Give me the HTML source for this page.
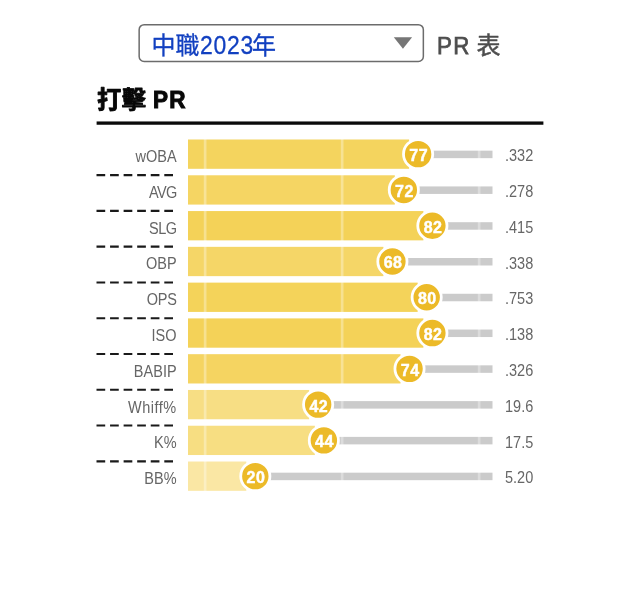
<!DOCTYPE html>
<html lang="zh-Hant"><head><meta charset="utf-8"><title>PR 表</title>
<style>
html,body{margin:0;padding:0;background:#fff;}
body{width:640px;height:590px;position:relative;overflow:hidden;font-family:"Liberation Sans",sans-serif;color:#666666;}
#wrap{position:absolute;left:0;top:0;width:640px;height:590px;will-change:transform;}
#shapes{position:absolute;left:0;top:0;display:block;}
.t{position:absolute;white-space:nowrap;line-height:1;}
.cjk{display:inline-block;overflow:hidden;color:transparent;-webkit-text-stroke:0 transparent;-webkit-text-fill-color:transparent;vertical-align:top;height:1em;}
.seltxt{color:#1240c0;font-size:24.6px;-webkit-text-stroke:0.3px #1240c0;}
.pr{font-size:24.8px;color:#4d4d4d;-webkit-text-stroke:0.75px #4d4d4d;}
.h2{font-size:24.5px;color:#080808;font-weight:bold;-webkit-text-stroke:1px #080808;}
.lab{left:60px;width:116.6px;text-align:right;font-size:16.3px;color:#666666;transform-origin:100% 0;transform:scaleX(.891);}
.val{left:505.3px;font-size:16.4px;color:#666666;transform-origin:0 0;transform:scaleX(.886);}
.num{width:40px;text-align:center;color:#fff;font-weight:bold;font-size:16.0px;-webkit-text-stroke:.45px #fff;letter-spacing:.5px;}
</style></head><body><div id="wrap">

<svg id="shapes" width="640" height="590" viewBox="0 0 640 590" role="img" aria-label="打擊 PR 表">
<rect x="139.15" y="24.65" width="284.2" height="36.8" rx="5" ry="5" fill="#fff" stroke="#6c6c6c" stroke-width="1.5"/>
<polygon points="393.8,37.2 412.1,37.2 402.95,48.7" fill="#767676"/>
<text x="151.5" y="53.5" font-size="24" fill="#1240c0" stroke="#1240c0" stroke-width="0.3" font-family="'Liberation Sans','Noto Sans CJK TC',sans-serif">中</text>
<text x="175.5" y="53.5" font-size="24" fill="#1240c0" stroke="#1240c0" stroke-width="0.3" font-family="'Liberation Sans','Noto Sans CJK TC',sans-serif">職</text>
<text x="252.1" y="53.5" font-size="24" fill="#1240c0" stroke="#1240c0" stroke-width="0.3" font-family="'Liberation Sans','Noto Sans CJK TC',sans-serif">年</text>
<text x="476.4" y="53.5" font-size="24" fill="#4d4d4d" stroke="#4d4d4d" stroke-width="0.5" stroke-linejoin="round" font-family="'Liberation Sans','Noto Sans CJK TC',sans-serif">表</text>
<text x="97.1" y="107.8" font-size="24.2" font-weight="bold" fill="#080808" stroke="#080808" stroke-width="0.9" stroke-linejoin="round" font-family="'Liberation Sans','Noto Sans CJK TC',sans-serif">打</text>
<text x="121.7" y="107.8" font-size="24.2" font-weight="bold" fill="#080808" stroke="#080808" stroke-width="0.9" stroke-linejoin="round" font-family="'Liberation Sans','Noto Sans CJK TC',sans-serif">擊</text>
<rect x="96.6" y="121.45" width="446.8" height="3.3" fill="#0a0a0a"/>
<rect x="188.0" y="150.65" width="304.5" height="7.5" fill="#cbcbcb"/>
<rect x="188.0" y="139.50" width="221.11" height="29.3" fill="rgb(244,212,94)"/>
<rect x="188.0" y="186.43" width="304.5" height="7.5" fill="#cbcbcb"/>
<rect x="188.0" y="175.28" width="206.83" height="29.3" fill="rgb(245,213,99)"/>
<rect x="188.0" y="222.21" width="304.5" height="7.5" fill="#cbcbcb"/>
<rect x="188.0" y="211.06" width="235.39" height="29.3" fill="rgb(244,210,88)"/>
<rect x="188.0" y="257.99" width="304.5" height="7.5" fill="#cbcbcb"/>
<rect x="188.0" y="246.84" width="195.41" height="29.3" fill="rgb(245,214,103)"/>
<rect x="188.0" y="293.77" width="304.5" height="7.5" fill="#cbcbcb"/>
<rect x="188.0" y="282.62" width="229.68" height="29.3" fill="rgb(244,211,90)"/>
<rect x="188.0" y="329.55" width="304.5" height="7.5" fill="#cbcbcb"/>
<rect x="188.0" y="318.40" width="235.39" height="29.3" fill="rgb(244,210,88)"/>
<rect x="188.0" y="365.33" width="304.5" height="7.5" fill="#cbcbcb"/>
<rect x="188.0" y="354.18" width="212.54" height="29.3" fill="rgb(245,212,97)"/>
<rect x="188.0" y="401.11" width="304.5" height="7.5" fill="#cbcbcb"/>
<rect x="188.0" y="389.96" width="121.15" height="29.3" fill="rgb(247,222,132)"/>
<rect x="188.0" y="436.89" width="304.5" height="7.5" fill="#cbcbcb"/>
<rect x="188.0" y="425.74" width="126.86" height="29.3" fill="rgb(247,222,130)"/>
<rect x="188.0" y="472.67" width="304.5" height="7.5" fill="#cbcbcb"/>
<rect x="188.0" y="461.52" width="58.32" height="29.3" fill="rgb(250,231,164)"/>
<rect x="203.78" y="130" width="2.7" height="372" fill="#fff" fill-opacity=".33"/>
<rect x="340.80" y="130" width="2.7" height="372" fill="#fff" fill-opacity=".33"/>
<rect x="477.82" y="130" width="2.7" height="372" fill="#fff" fill-opacity=".33"/>
<circle cx="418.11" cy="154.15" r="14.6" fill="#ecba28" stroke="#fff" stroke-width="2.8"/>
<line x1="96.5" y1="175.10" x2="173" y2="175.10" stroke="#1a1a1a" stroke-width="2.1" stroke-dasharray="8.7 4.86"/>
<circle cx="403.83" cy="189.93" r="14.6" fill="#ecba28" stroke="#fff" stroke-width="2.8"/>
<line x1="96.5" y1="210.88" x2="173" y2="210.88" stroke="#1a1a1a" stroke-width="2.1" stroke-dasharray="8.7 4.86"/>
<circle cx="432.39" cy="225.71" r="14.6" fill="#ecba28" stroke="#fff" stroke-width="2.8"/>
<line x1="96.5" y1="246.66" x2="173" y2="246.66" stroke="#1a1a1a" stroke-width="2.1" stroke-dasharray="8.7 4.86"/>
<circle cx="392.41" cy="261.49" r="14.6" fill="#ecba28" stroke="#fff" stroke-width="2.8"/>
<line x1="96.5" y1="282.44" x2="173" y2="282.44" stroke="#1a1a1a" stroke-width="2.1" stroke-dasharray="8.7 4.86"/>
<circle cx="426.68" cy="297.27" r="14.6" fill="#ecba28" stroke="#fff" stroke-width="2.8"/>
<line x1="96.5" y1="318.22" x2="173" y2="318.22" stroke="#1a1a1a" stroke-width="2.1" stroke-dasharray="8.7 4.86"/>
<circle cx="432.39" cy="333.05" r="14.6" fill="#ecba28" stroke="#fff" stroke-width="2.8"/>
<line x1="96.5" y1="354.00" x2="173" y2="354.00" stroke="#1a1a1a" stroke-width="2.1" stroke-dasharray="8.7 4.86"/>
<circle cx="409.54" cy="368.83" r="14.6" fill="#ecba28" stroke="#fff" stroke-width="2.8"/>
<line x1="96.5" y1="389.78" x2="173" y2="389.78" stroke="#1a1a1a" stroke-width="2.1" stroke-dasharray="8.7 4.86"/>
<circle cx="318.15" cy="404.61" r="14.6" fill="#ecba28" stroke="#fff" stroke-width="2.8"/>
<line x1="96.5" y1="425.56" x2="173" y2="425.56" stroke="#1a1a1a" stroke-width="2.1" stroke-dasharray="8.7 4.86"/>
<circle cx="323.86" cy="440.39" r="14.6" fill="#ecba28" stroke="#fff" stroke-width="2.8"/>
<line x1="96.5" y1="461.34" x2="173" y2="461.34" stroke="#1a1a1a" stroke-width="2.1" stroke-dasharray="8.7 4.86"/>
<circle cx="255.32" cy="476.17" r="14.6" fill="#ecba28" stroke="#fff" stroke-width="2.8"/>
</svg>
<div class="t seltxt" id="sel" style="left:151.50px;top:33.10px"><span class="cjk" style="width:47.70px"></span><span id="yr" style="display:inline-block;font-size:25.8px;letter-spacing:.85px;margin-left:.9px;transform-origin:0 0;transform:scaleX(.89)">2023</span><span class="cjk" style="width:24.00px"></span></div>
<div class="t pr" style="left:436.6px;top:33.60px"><span id="pr" style="display:inline-block;transform-origin:0 0;transform:scaleX(.9);letter-spacing:1.6px">PR</span> <span class="cjk" style="width:24px"></span></div>
<div class="t h2" style="left:97.1px;top:87.60px"><span class="cjk" style="width:56px"></span><span id="h2" style="display:inline-block;transform-origin:0 0;transform:scaleX(.92);letter-spacing:1.2px">PR</span></div>
<div class="t lab" style="top:148.05px">wOBA</div>
<div class="t num" style="left:398.76px;top:148.05px">77</div>
<div class="t val" style="top:147.27px">.332</div>
<div class="t lab" style="top:183.83px;letter-spacing:-0.7px;margin-left:0.00px">AVG</div>
<div class="t num" style="left:384.48px;top:183.83px">72</div>
<div class="t val" style="top:183.05px">.278</div>
<div class="t lab" style="top:219.61px;letter-spacing:-0.55px;margin-left:0.00px">SLG</div>
<div class="t num" style="left:413.04px;top:219.61px">82</div>
<div class="t val" style="top:218.83px">.415</div>
<div class="t lab" style="top:255.39px">OBP</div>
<div class="t num" style="left:373.06px;top:255.39px">68</div>
<div class="t val" style="top:254.61px">.338</div>
<div class="t lab" style="top:291.17px;letter-spacing:-0.3px;margin-left:0.00px">OPS</div>
<div class="t num" style="left:407.33px;top:291.17px">80</div>
<div class="t val" style="top:290.39px">.753</div>
<div class="t lab" style="top:326.95px">ISO</div>
<div class="t num" style="left:413.04px;top:326.95px">82</div>
<div class="t val" style="top:326.17px">.138</div>
<div class="t lab" style="top:362.73px">BABIP</div>
<div class="t num" style="left:390.19px;top:362.73px">74</div>
<div class="t val" style="top:361.95px">.326</div>
<div class="t lab" style="top:398.51px;letter-spacing:0.55px;margin-left:0.28px">Whiff%</div>
<div class="t num" style="left:298.80px;top:398.51px">42</div>
<div class="t val" style="top:397.73px">19.6</div>
<div class="t lab" style="top:434.29px">K%</div>
<div class="t num" style="left:304.51px;top:434.29px">44</div>
<div class="t val" style="top:433.51px">17.5</div>
<div class="t lab" style="top:470.07px">BB%</div>
<div class="t num" style="left:235.97px;top:470.07px">20</div>
<div class="t val" style="top:469.29px">5.20</div>
</div></body></html>
